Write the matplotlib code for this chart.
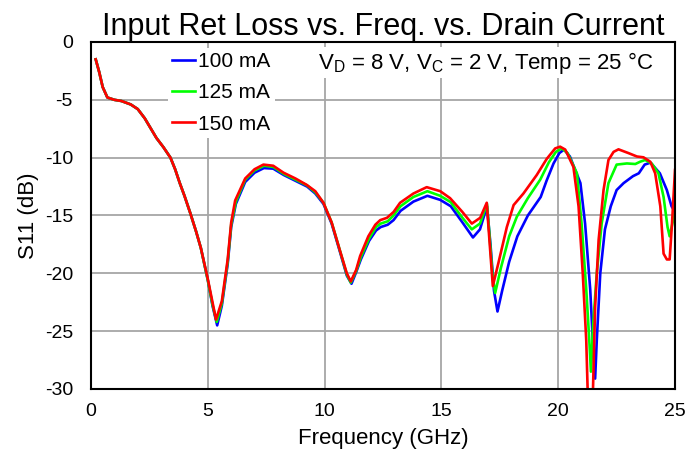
import matplotlib
matplotlib.use("Agg")
import matplotlib.pyplot as plt

plt.rcParams['font.family'] = ['Liberation Sans', 'DejaVu Sans']
plt.rcParams['axes.unicode_minus'] = False

# ---------------- DATA ---------------- #

labels = ["100 mA", "125 mA", "150 mA"]
colors = ["#0000ff", "#00ff00", "#ff0000"]

f_100 = [0.2, 0.35, 0.5, 0.7, 1.0, 1.3, 1.7, 2.0, 2.3, 2.8,
         3.1, 3.4, 3.6, 3.8, 4.0, 4.25, 4.5, 4.7, 5.0, 5.2, 5.4, 5.6, 5.85, 6.0,
         6.2, 6.6, 7.0, 7.4, 7.8, 8.25, 8.75, 9.25, 9.6, 9.95,
         10.3, 10.65, 10.95, 11.15, 11.35, 11.55, 11.9, 12.2, 12.4, 12.7,
         12.95, 13.25, 13.8, 14.4, 14.95, 15.4, 15.9, 16.35, 16.65, 16.95,
         17.1, 17.25, 17.4, 17.6, 17.9, 18.25, 18.7, 19.25, 19.5, 19.8,
         20.05, 20.25, 20.5, 20.95, 21.15, 21.37, 21.48, 21.58, 21.65, 21.8,
         22.0, 22.25, 22.5, 22.8, 23.2, 23.45, 23.7, 23.95, 24.35, 24.65,
         24.85, 25.0]
s_100 = [-1.5, -2.6, -3.9, -4.8, -5.0, -5.1, -5.4, -5.8, -6.6, -8.3,
         -9.1, -10.0, -11.0, -12.2, -13.3, -14.8, -16.4, -17.8, -20.6, -22.8, -24.5, -22.8, -19.2, -16.0,
         -14.0, -12.1, -11.3, -10.9, -10.95, -11.5, -12.0, -12.5, -13.1, -14.0,
         -15.7, -18.1, -20.2, -20.9, -19.9, -18.8, -17.2, -16.3, -16.0, -15.8,
         -15.4, -14.6, -13.8, -13.3, -13.65, -14.2, -15.6, -16.9, -16.2, -14.2,
         -17.5, -21.5, -23.3, -21.5, -19.0, -16.8, -15.0, -13.4, -12.0, -10.5,
         -9.6, -9.3, -9.9, -12.2, -15.7, -21.4, -25.8, -29.1, -25.8, -20.0,
         -16.2, -14.2, -12.8, -12.2, -11.6, -11.35, -10.6, -10.43, -11.35, -12.8,
         -14.2, -14.7]

f_125 = [0.2, 0.35, 0.5, 0.7, 1.0, 1.3, 1.7, 2.0, 2.3, 2.8,
         3.1, 3.4, 3.6, 3.8, 4.0, 4.25, 4.5, 4.7, 5.0, 5.2, 5.38, 5.6, 5.85, 6.0,
         6.2, 6.6, 7.0, 7.4, 7.8, 8.25, 8.75, 9.25, 9.6, 9.95,
         10.3, 10.65, 10.95, 11.12, 11.35, 11.55, 11.9, 12.2, 12.4, 12.7,
         12.95, 13.25, 13.8, 14.4, 14.95, 15.4, 15.9, 16.3, 16.65, 16.95,
         17.05, 17.18, 17.3, 17.55, 17.9, 18.23, 18.7, 19.23, 19.6, 19.9,
         20.15, 20.4, 20.8, 21.0, 21.2, 21.33, 21.4, 21.5, 21.65, 21.86,
         22.15, 22.5, 22.94, 23.3, 23.51, 23.72, 24.0, 24.29, 24.51, 24.68,
         24.77, 24.94, 25.0]
s_125 = [-1.5, -2.6, -3.9, -4.8, -5.0, -5.1, -5.4, -5.8, -6.6, -8.3,
         -9.1, -10.0, -11.0, -12.2, -13.3, -14.8, -16.4, -17.8, -20.6, -22.7, -24.2, -22.6, -19.0, -15.8,
         -13.8, -11.9, -11.1, -10.7, -10.8, -11.4, -11.9, -12.4, -13.0, -13.9,
         -15.6, -18.0, -20.1, -20.8, -19.8, -18.6, -17.0, -16.0, -15.7, -15.5,
         -15.0, -14.2, -13.4, -12.9, -13.3, -13.85, -15.2, -16.2, -15.7, -14.0,
         -16.5, -20.0, -21.7, -19.5, -16.8, -15.1, -13.5, -11.9, -10.4, -9.5,
         -9.2, -9.6, -11.35, -15.7, -21.4, -25.8, -28.5, -24.3, -20.0, -15.7,
         -12.2, -10.6, -10.5, -10.55, -10.35, -10.2, -10.5, -11.35, -13.4, -16.0,
         -16.8, -15.2, -14.6]

f_150 = [0.2, 0.35, 0.5, 0.7, 1.0, 1.3, 1.7, 2.0, 2.3, 2.8,
         3.1, 3.4, 3.6, 3.8, 4.0, 4.25, 4.5, 4.7, 5.0, 5.2, 5.35, 5.6, 5.85, 6.0,
         6.17, 6.6, 7.0, 7.38, 7.8, 8.24, 8.75, 9.23, 9.6, 9.95,
         10.3, 10.65, 10.95, 11.12, 11.35, 11.52, 11.87, 12.17, 12.38, 12.67,
         12.95, 13.23, 13.8, 14.37, 14.95, 15.37, 15.9, 16.3, 16.66, 16.94,
         17.05, 17.2, 17.44, 17.8, 18.09, 18.51, 19.08, 19.51, 19.87, 20.08,
         20.3, 20.65, 20.87, 21.05, 21.2, 21.3, 21.45, 21.58, 21.73, 21.94,
         22.15, 22.37, 22.58, 23.0, 23.37, 23.65, 23.94, 24.15, 24.37, 24.51,
         24.65, 24.77, 24.87, 25.0]
s_150 = [-1.5, -2.6, -3.9, -4.8, -5.0, -5.1, -5.4, -5.8, -6.6, -8.3,
         -9.1, -10.0, -11.0, -12.2, -13.3, -14.8, -16.4, -17.8, -20.5, -22.5, -24.0, -22.4, -18.8, -15.6,
         -13.7, -11.8, -11.0, -10.6, -10.7, -11.3, -11.8, -12.35, -12.9, -13.9,
         -15.6, -18.0, -20.0, -20.7, -19.7, -18.5, -16.8, -15.8, -15.4, -15.2,
         -14.7, -13.9, -13.1, -12.55, -12.9, -13.5, -14.7, -15.7, -15.2, -13.9,
         -17.0, -21.1, -19.1, -16.0, -14.1, -13.1, -11.5, -10.1, -9.2, -9.05,
         -9.3, -10.8, -14.2, -20.0, -25.8, -33.0, -33.0, -22.9, -17.1, -12.8,
         -10.2, -9.5, -9.28, -9.6, -9.9, -9.97, -10.35, -11.35, -14.2, -18.3,
         -18.8, -18.8, -15.7, -11.06]

xticks = [0, 5, 10, 15, 20, 25]
yticks = [0, -5, -10, -15, -20, -25, -30]

# ---------------- DRAW ---------------- #

fig = plt.figure(figsize=(6.86, 4.53), dpi=100)
ax = fig.add_axes([0.1327, 0.1413, 0.8513, 0.766])

for f, s, c, lab in zip([f_100, f_125, f_150], [s_100, s_125, s_150], colors, labels):
    ax.plot(f, s, color=c, lw=1.9, label=lab, solid_joinstyle="round")

ax.set_xlim(0, 25)
ax.set_ylim(-30, 0)
ax.set_xticks(xticks)
ax.set_yticks(yticks)
ax.grid(True, color="#a6a6a6", lw=1.3)
ax.set_axisbelow(True)
ax.tick_params(axis="x", length=0, labelsize=14, pad=10)
ax.tick_params(axis="y", length=0, labelsize=14, pad=13)
for sp in ax.spines.values():
    sp.set_linewidth(1.5)
    sp.set_color("black")

ax.set_xlabel("Frequency (GHz)", fontsize=16, labelpad=6)
ax.set_ylabel("S11 (dB)", fontsize=16, labelpad=4)
ax.set_title("Input Ret Loss vs. Freq. vs. Drain Current", fontsize=22, pad=5)

leg = ax.legend(loc="upper left", bbox_to_anchor=(0.132, 0.982), fontsize=15,
                handlelength=1.1, handletextpad=0.15, labelspacing=0.58,
                borderaxespad=0, borderpad=0.2, frameon=True, fancybox=False)
leg.get_frame().set_edgecolor("none")
leg.get_frame().set_facecolor("white")
leg.get_frame().set_alpha(1)

ax.text(0.389, 0.94, r"V$_\mathregular{D}$ = 8 V, V$_\mathregular{C}$ = 2 V, Temp = 25 °C",
        transform=ax.transAxes, fontsize=16, va="center", ha="left",
        bbox=dict(facecolor="white", edgecolor="none", pad=2))

fig.savefig("out.png", dpi=100)
